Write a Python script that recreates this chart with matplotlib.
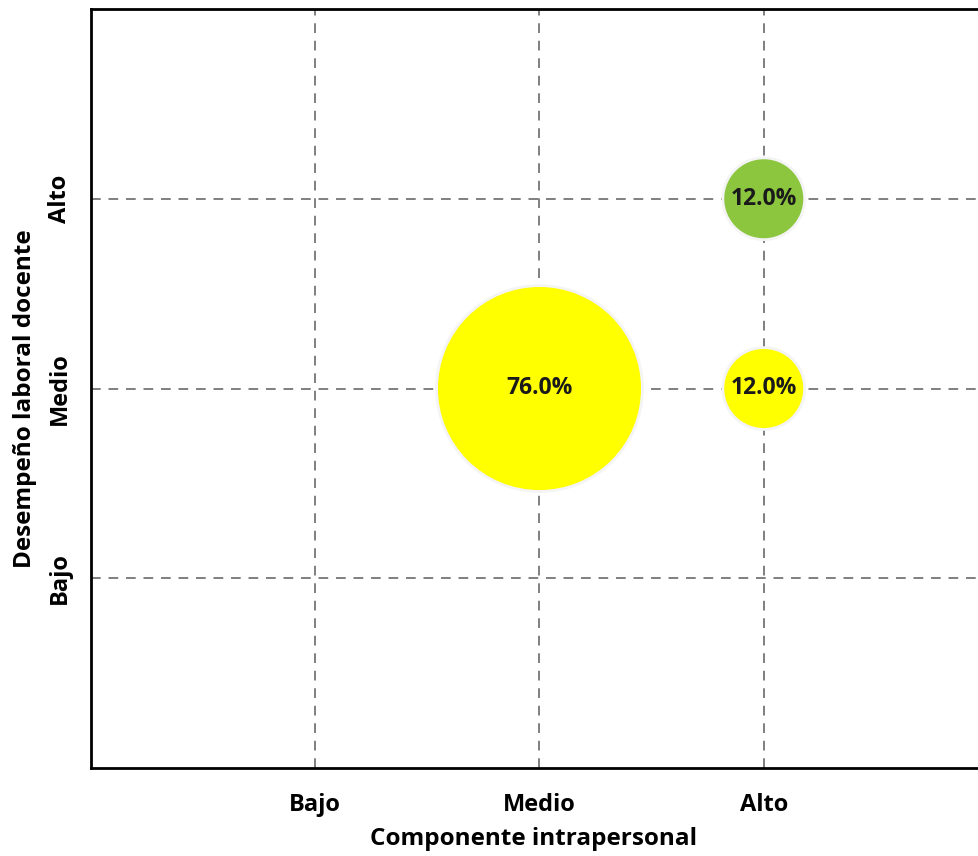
import matplotlib.pyplot as plt
import matplotlib.patheffects as pe

plt.rcParams['font.family'] = ['Open Sans', 'DejaVu Sans']

levels = ['Bajo', 'Medio', 'Alto']
# intrapersonal level (x) and job performance level (y) for each group
x_level = [2, 3, 3]
y_level = [2, 2, 3]
pct = [76.0, 12.0, 12.0]
colors = ['#FFFF00', '#FFFF00', '#8CC63F']

fig = plt.figure(figsize=(9.79, 8.56), dpi=100)
ax = fig.add_axes([91 / 979, 88 / 856, 897 / 979, 759 / 856])

sizes = [p * 289 for p in pct]
ax.scatter(x_level, y_level, s=sizes, c=colors, edgecolors='#F4F4F4',
           linewidths=2, zorder=3,
           path_effects=[pe.SimplePatchShadow(offset=(0, 0), shadow_rgbFace='#B8B4D8', alpha=0.6),
                         pe.Normal()])
for x, y, p in zip(x_level, y_level, pct):
    ax.text(x, y, f'{p:.1f}%', ha='center', va='center', fontsize=16.5,
            fontweight='bold', color='#1a1a1a', zorder=4)

ax.set_xlim(0, 4)
ax.set_ylim(0, 4)
ax.set_xticks([1, 2, 3])
ax.set_xticklabels(levels, fontsize=17, fontweight='bold')
ax.set_yticks([1, 2, 3])
ax.set_yticklabels(levels, fontsize=17, fontweight='bold', rotation=90, va='center')
ax.tick_params(axis='x', length=0, pad=18)
ax.tick_params(axis='y', length=0, pad=14)

ax.grid(True, linestyle=(0, (5, 4)), color='#7f7f7f', linewidth=1.4)
ax.set_axisbelow(True)
for side in ['left', 'bottom', 'top', 'right']:
    ax.spines[side].set_linewidth(2)
    ax.spines[side].set_color('black')

ax.set_xlabel('Componente intrapersonal', fontsize=17.5, fontweight='bold')
ax.set_ylabel('Desempeño laboral docente', fontsize=17.5, fontweight='bold')
ax.xaxis.set_label_coords(0.493, -0.078)
ax.yaxis.set_label_coords(-0.060, 0.487)

fig.savefig('out.png', dpi=100)
